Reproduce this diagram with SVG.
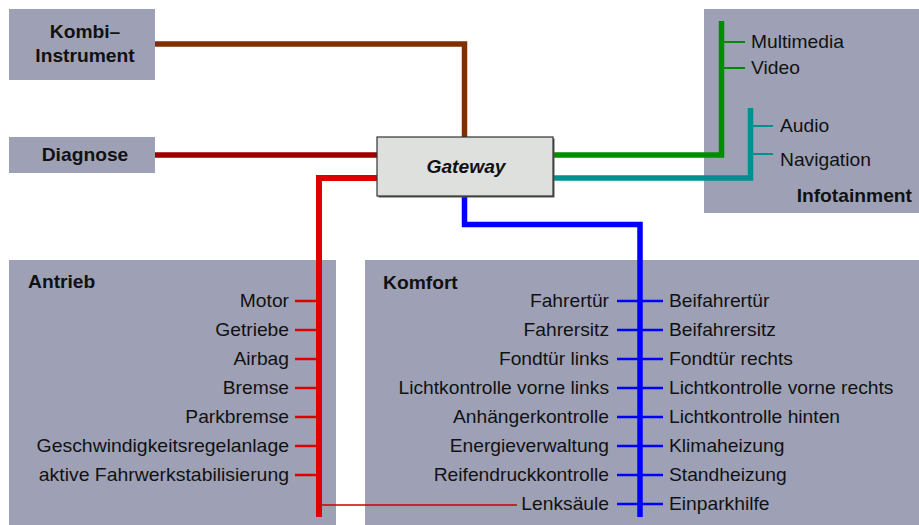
<svg xmlns="http://www.w3.org/2000/svg" width="919" height="525" viewBox="0 0 919 525">
<style>
.box{fill:#9ea1b6}
.t{font-family:"Liberation Sans",Arial,sans-serif;font-size:17.5px;fill:#111}
.b{font-weight:bold}
.e{text-anchor:end}
.m{text-anchor:middle}
.bus{fill:none;stroke-linejoin:miter;stroke-linecap:butt}
.tick{stroke-width:2.5}
</style>
<rect width="919" height="525" fill="#ffffff"/>
<g id="kombi">
<rect class="box" x="9" y="9" width="146" height="71"/>
<text class="t b m" transform="translate(85,38) scale(1.1,1)">Kombi–</text>
<text class="t b m" transform="translate(85,62) scale(1.1,1)">Instrument</text>
</g>
<g id="diagnose">
<rect class="box" x="9" y="137" width="146" height="36"/>
<text class="t b m" transform="translate(85,161) scale(1.1,1)">Diagnose</text>
</g>
<g id="antrieb">
<rect class="box" x="9" y="260" width="327" height="265"/>
<text class="t b" transform="translate(28,288) scale(1.1,1)">Antrieb</text>
<text class="t e" transform="translate(289,307) scale(1.1,1)">Motor</text>
<text class="t e" transform="translate(289,336) scale(1.1,1)">Getriebe</text>
<text class="t e" transform="translate(289,365) scale(1.1,1)">Airbag</text>
<text class="t e" transform="translate(289,394) scale(1.1,1)">Bremse</text>
<text class="t e" transform="translate(289,423) scale(1.1,1)">Parkbremse</text>
<text class="t e" transform="translate(289,452) scale(1.11,1)">Geschwindigkeitsregelanlage</text>
<text class="t e" transform="translate(289,481) scale(1.11,1)">aktive Fahrwerkstabilisierung</text>
</g>
<g id="komfort">
<rect class="box" x="365" y="260" width="554" height="265"/>
<text class="t b" transform="translate(383,289) scale(1.1,1)">Komfort</text>
<text class="t e" transform="translate(609,307) scale(1.1,1)">Fahrertür</text>
<text class="t e" transform="translate(609,336) scale(1.1,1)">Fahrersitz</text>
<text class="t e" transform="translate(609,365) scale(1.1,1)">Fondtür links</text>
<text class="t e" transform="translate(609,394) scale(1.1,1)">Lichtkontrolle vorne links</text>
<text class="t e" transform="translate(609,423) scale(1.1,1)">Anhängerkontrolle</text>
<text class="t e" transform="translate(609,452) scale(1.1,1)">Energieverwaltung</text>
<text class="t e" transform="translate(609,481) scale(1.1,1)">Reifendruckkontrolle</text>
<text class="t e" transform="translate(609,510) scale(1.1,1)">Lenksäule</text>
<text class="t" transform="translate(669,307) scale(1.1,1)">Beifahrertür</text>
<text class="t" transform="translate(669,336) scale(1.1,1)">Beifahrersitz</text>
<text class="t" transform="translate(669,365) scale(1.1,1)">Fondtür rechts</text>
<text class="t" transform="translate(669,394) scale(1.1,1)">Lichtkontrolle vorne rechts</text>
<text class="t" transform="translate(669,423) scale(1.1,1)">Lichtkontrolle hinten</text>
<text class="t" transform="translate(669,452) scale(1.1,1)">Klimaheizung</text>
<text class="t" transform="translate(669,481) scale(1.1,1)">Standheizung</text>
<text class="t" transform="translate(669,510) scale(1.1,1)">Einparkhilfe</text>
</g>
<g id="infotainment">
<rect class="box" x="704" y="9" width="215" height="204"/>
<text class="t" transform="translate(751,48) scale(1.1,1)">Multimedia</text>
<text class="t" transform="translate(751,74) scale(1.1,1)">Video</text>
<text class="t" transform="translate(780,132) scale(1.1,1)">Audio</text>
<text class="t" transform="translate(780,166) scale(1.1,1)">Navigation</text>
<text class="t b e" transform="translate(912,202) scale(1.1,1)">Infotainment</text>
</g>
<g id="connectors">
<polyline class="bus" stroke="#803000" stroke-width="5.5" points="155,44 464.5,44 464.5,137"/>
<line stroke="#990000" stroke-width="5.5" x1="155" y1="155" x2="377" y2="155"/>
<polyline class="bus" stroke="#dd0000" stroke-width="6" points="377,178 319,178 319,517"/>
<polyline class="bus" stroke="#0000ff" stroke-width="5.5" points="464.5,196 464.5,224.5 640,224.5 640,517"/>
<polyline class="bus" stroke="#008c00" stroke-width="5.5" points="553,155 721.5,155 721.5,21"/>
<polyline class="bus" stroke="#009090" stroke-width="5.5" points="553,178 750.5,178 750.5,108"/>
<g stroke="#dd0000" class="tick">
<line x1="295" y1="301" x2="319" y2="301"/>
<line x1="295" y1="330" x2="319" y2="330"/>
<line x1="295" y1="359" x2="319" y2="359"/>
<line x1="295" y1="388" x2="319" y2="388"/>
<line x1="295" y1="417" x2="319" y2="417"/>
<line x1="295" y1="446" x2="319" y2="446"/>
<line x1="295" y1="475" x2="319" y2="475"/>
</g>
<line stroke="#cc0000" stroke-width="1.5" x1="319" y1="505" x2="517" y2="505"/>
<g stroke="#0000ff" class="tick">
<line x1="617" y1="301" x2="663" y2="301"/>
<line x1="617" y1="330" x2="663" y2="330"/>
<line x1="617" y1="359" x2="663" y2="359"/>
<line x1="617" y1="388" x2="663" y2="388"/>
<line x1="617" y1="417" x2="663" y2="417"/>
<line x1="617" y1="446" x2="663" y2="446"/>
<line x1="617" y1="475" x2="663" y2="475"/>
<line x1="617" y1="504" x2="663" y2="504"/>
</g>
<g stroke="#008c00" stroke-width="2">
<line x1="721.5" y1="42" x2="745" y2="42"/>
<line x1="721.5" y1="68" x2="745" y2="68"/>
</g>
<g stroke="#009090" stroke-width="2">
<line x1="750.5" y1="126" x2="773" y2="126"/>
<line x1="750.5" y1="154" x2="773" y2="154"/>
</g>
</g>
<g id="gateway">
<rect x="378.5" y="138.5" width="176" height="59" fill="#555"/>
<rect x="377" y="137" width="176" height="59" fill="#dde0dd" stroke="#333" stroke-width="1.2"/>
<text class="t b m" font-style="italic" transform="translate(466,173) scale(1.1,1)">Gateway</text>
</g>
</svg>
